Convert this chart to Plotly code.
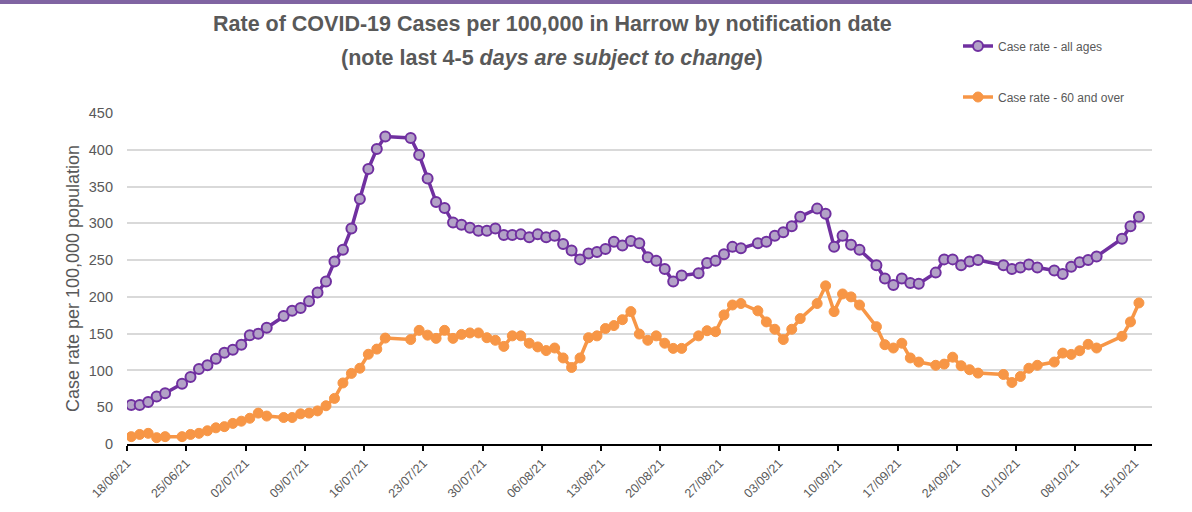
import pandas as pd
import plotly.graph_objects as go

# Notification dates (missing days are absent in the source)
dates = [
    "2021-06-18", "2021-06-19", "2021-06-20", "2021-06-21", "2021-06-22",
    "2021-06-24", "2021-06-25", "2021-06-26", "2021-06-27", "2021-06-28", "2021-06-29", "2021-06-30",
    "2021-07-01", "2021-07-02", "2021-07-03", "2021-07-04",
    "2021-07-06", "2021-07-07", "2021-07-08", "2021-07-09", "2021-07-10", "2021-07-11", "2021-07-12",
    "2021-07-13", "2021-07-14", "2021-07-15", "2021-07-16", "2021-07-17", "2021-07-18",
    "2021-07-21", "2021-07-22", "2021-07-23", "2021-07-24", "2021-07-25", "2021-07-26", "2021-07-27",
    "2021-07-28", "2021-07-29", "2021-07-30", "2021-07-31", "2021-08-01", "2021-08-02", "2021-08-03",
    "2021-08-04", "2021-08-05", "2021-08-06", "2021-08-07", "2021-08-08", "2021-08-09", "2021-08-10",
    "2021-08-11", "2021-08-12", "2021-08-13", "2021-08-14", "2021-08-15", "2021-08-16", "2021-08-17",
    "2021-08-18", "2021-08-19", "2021-08-20", "2021-08-21", "2021-08-22",
    "2021-08-24", "2021-08-25", "2021-08-26", "2021-08-27", "2021-08-28", "2021-08-29",
    "2021-08-31", "2021-09-01", "2021-09-02", "2021-09-03", "2021-09-04", "2021-09-05",
    "2021-09-07", "2021-09-08", "2021-09-09", "2021-09-10", "2021-09-11", "2021-09-12",
    "2021-09-14", "2021-09-15", "2021-09-16", "2021-09-17", "2021-09-18", "2021-09-19",
    "2021-09-21", "2021-09-22", "2021-09-23", "2021-09-24", "2021-09-25", "2021-09-26",
    "2021-09-29", "2021-09-30", "2021-10-01", "2021-10-02", "2021-10-03",
    "2021-10-05", "2021-10-06", "2021-10-07", "2021-10-08", "2021-10-09", "2021-10-10",
    "2021-10-13", "2021-10-14", "2021-10-15",
]

rate_all_ages = [
    53, 53, 57, 64.5, 69,
    82, 91, 102, 107, 116, 124, 128,
    135, 148, 150, 158,
    174, 181, 185, 194, 206, 221, 248,
    264, 293, 333, 374, 401, 418,
    416, 393, 361, 329, 321, 301, 298,
    294, 290, 290, 293, 284, 284, 285,
    281, 285, 281, 283, 272, 263, 251,
    259, 261, 265, 275, 270, 276, 273,
    254, 249, 238, 221, 229,
    232, 246, 249, 258, 268, 266,
    273, 275, 283, 288, 296, 309,
    320, 313, 268, 283, 271, 264,
    243, 225, 216, 225, 219, 218,
    233, 251, 251, 243, 248, 250,
    243, 238, 240, 244, 240,
    236, 231, 241, 247, 250, 255,
    279, 296, 309,
]

rate_60_over = [
    10, 13, 14.5, 8.6, 10,
    10, 13, 14.5, 18, 22, 23.6, 28,
    31, 35, 42, 38,
    36, 36, 41, 42, 45, 52, 62,
    83, 96, 103, 122, 129, 144,
    142, 154.5, 148, 143.6, 154.5, 143.6, 149,
    151, 151, 144.5, 141, 132.7, 147, 147,
    137, 132, 127, 130.5, 117, 104, 117,
    144.5, 147, 157, 161, 169, 180, 149.5,
    141, 147, 137, 130, 130,
    147, 154, 152.7, 175.5, 189, 191,
    181, 166, 156, 142, 156, 170.5,
    191, 215, 180, 204, 200, 189,
    159.5, 135, 130.5, 137, 117, 111.4,
    107, 108.6, 118, 106.4, 101, 96.4,
    94.5, 83.6, 91.8, 103, 107,
    111.4, 123.6, 121.8, 126.8, 135.5, 130.5,
    146.4, 166, 191.8,
]

y_ticks = [0, 50, 100, 150, 200, 250, 300, 350, 400, 450]

# points sit in the middle of each day slot (date axis "between tick marks")
x = pd.to_datetime(dates) + pd.Timedelta(hours=12)

GREY = "#595959"
PURPLE = "#7030A0"
PURPLE_FILL = "#B3A2C7"
ORANGE = "#F79646"
FONT = "Liberation Sans, Arial, sans-serif"

fig = go.Figure()
fig.add_trace(go.Scatter(
    x=x, y=rate_all_ages, mode="lines+markers", name="Case rate - all ages",
    line=dict(color=PURPLE, width=3.5),
    marker=dict(size=10, color=PURPLE_FILL, line=dict(color=PURPLE, width=2)),
    legend="legend",
))
fig.add_trace(go.Scatter(
    x=x, y=rate_60_over, mode="lines+markers", name="Case rate - 60 and over",
    line=dict(color=ORANGE, width=3.5),
    marker=dict(size=10, color=ORANGE, line=dict(color=ORANGE, width=1)),
    legend="legend2",
))

L, R, T, B = 127, 40, 113, 68
W, H = 1192, 512
pw, ph = W - L - R, H - T - B

def px_x(p):
    return (p - L) / pw

def px_y(p):
    return (H - B - p) / ph

fig.update_layout(
    width=W, height=H,
    margin=dict(l=L, r=R, t=T, b=B),
    paper_bgcolor="white", plot_bgcolor="white",
    font=dict(family=FONT, color=GREY),
    showlegend=True,
    legend=dict(x=px_x(958), y=px_y(46), xanchor="left", yanchor="middle",
                font=dict(size=12, color=GREY), bgcolor="rgba(0,0,0,0)"),
    legend2=dict(x=px_x(958), y=px_y(97), xanchor="left", yanchor="middle",
                 font=dict(size=12, color=GREY), bgcolor="rgba(0,0,0,0)"),
    xaxis=dict(
        type="date",
        range=["2021-06-18", "2021-10-17 01:00"],
        tickmode="linear", tick0="2021-06-18", dtick=7 * 86400000,
        tickformat="%d/%m/%y", tickangle=-45,
        tickfont=dict(size=12.5, color=GREY),
        ticks="outside", ticklen=5, tickwidth=1.5, tickcolor="black",
        showline=True, linecolor="black", linewidth=2,
        showgrid=False, zeroline=False,
    ),
    yaxis=dict(
        range=[0, 450], tickvals=y_ticks,
        tickfont=dict(size=14.5, color=GREY),
        showgrid=True, gridcolor="#D9D9D9", gridwidth=1.5,
        zeroline=False, showline=False, ticks="",
        ticklabelstandoff=13,
        title=dict(text="Case rate per 100,000 population",
                   font=dict(size=18, color=GREY), standoff=4),
    ),
    annotations=[
        dict(text="<b>Rate of COVID-19 Cases per 100,000 in Harrow by notification date</b>",
             x=px_x(552), y=px_y(24), xref="paper", yref="paper",
             xanchor="center", yanchor="middle", showarrow=False,
             font=dict(size=21.5, color=GREY, family=FONT)),
        dict(text="<b>(note last 4-5 <i>days are subject to change</i>)</b>",
             x=px_x(552), y=px_y(58), xref="paper", yref="paper",
             xanchor="center", yanchor="middle", showarrow=False,
             font=dict(size=21.5, color=GREY, family=FONT)),
    ],
    shapes=[
        dict(type="rect", xref="paper", yref="paper",
             x0=px_x(-2), x1=px_x(W + 2), y0=px_y(4), y1=px_y(-2),
             fillcolor="#8064A2", line=dict(width=0), layer="above"),
    ],
)

fig.write_html("out.html", config={"displayModeBar": False},
               post_script="document.body.style.margin='0px';")
